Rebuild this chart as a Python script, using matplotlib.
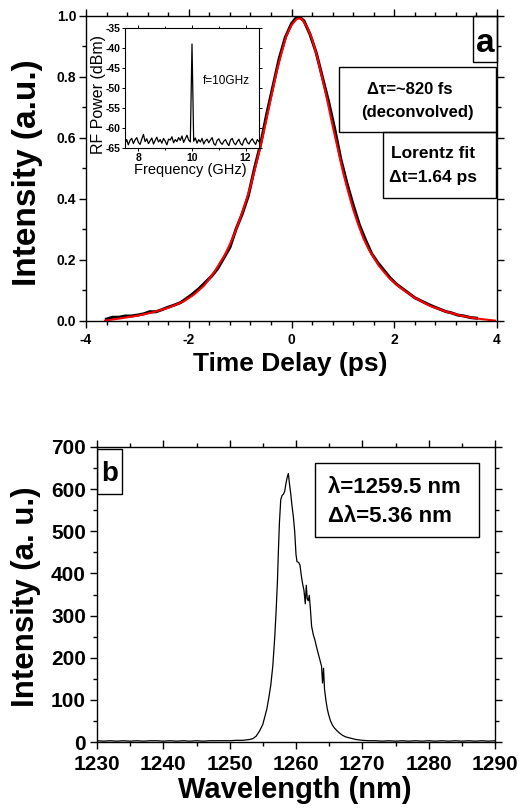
import numpy as np
import matplotlib
matplotlib.use("Agg")
import matplotlib.pyplot as plt
from matplotlib.ticker import MultipleLocator, FormatStrFormatter
from matplotlib.patches import Rectangle

plt.rcParams['font.family'] = ['Liberation Sans', 'DejaVu Sans']
plt.rcParams['font.weight'] = 'bold'
plt.rcParams['axes.unicode_minus'] = False

# autocorrelation trace (panel a)
delay = [-3.6, -3.48, -3.36, -3.24, -3.12, -3.0, -2.88, -2.76, -2.64, -2.52,
         -2.4, -2.28, -2.16, -2.04, -1.92, -1.8, -1.68, -1.56, -1.44, -1.32,
         -1.2, -1.08, -0.96, -0.84, -0.72, -0.6, -0.48, -0.36, -0.24, -0.12,
         0.0, 0.12, 0.24, 0.36, 0.48, 0.6, 0.72, 0.84, 0.96, 1.08,
         1.2, 1.32, 1.44, 1.56, 1.68, 1.8, 1.92, 2.04, 2.16, 2.28,
         2.4, 2.52, 2.64, 2.76, 2.88, 3.0, 3.12, 3.24, 3.36, 3.48, 3.6]
intensity = [0.005, 0.011, 0.011, 0.015, 0.015, 0.018, 0.022, 0.029, 0.029, 0.036,
             0.044, 0.051, 0.059, 0.073, 0.088, 0.105, 0.125, 0.145, 0.17, 0.205,
             0.24, 0.30, 0.35, 0.41, 0.50, 0.58, 0.68, 0.77, 0.86, 0.93,
             0.975, 1.0, 0.985, 0.94, 0.88, 0.80, 0.72, 0.63, 0.53, 0.45,
             0.38, 0.315, 0.265, 0.22, 0.19, 0.165, 0.14, 0.12, 0.105, 0.09,
             0.075, 0.065, 0.055, 0.046, 0.038, 0.03, 0.025, 0.018, 0.015, 0.01, 0.008]

# Lorentz fit curve
fit_t = [-3.63, -3.3, -3.0, -2.7, -2.4, -2.1, -1.9, -1.7, -1.5, -1.3,
         -1.2, -1.1, -1.0, -0.9, -0.8, -0.7, -0.6, -0.5, -0.4, -0.3,
         -0.2, -0.1, 0.0, 0.1, 0.15, 0.2, 0.3, 0.4, 0.5, 0.6,
         0.7, 0.8, 0.9, 1.0, 1.1, 1.2, 1.3, 1.4, 1.5, 1.7,
         1.9, 2.1, 2.4, 2.7, 3.0, 3.3, 3.6, 3.96]
fit_i = [0.0, 0.008, 0.016, 0.027, 0.042, 0.063, 0.085, 0.115, 0.16, 0.215,
         0.25, 0.29, 0.335, 0.385, 0.44, 0.505, 0.575, 0.65, 0.73, 0.81,
         0.875, 0.935, 0.97, 0.99, 0.992, 0.99, 0.965, 0.925, 0.865, 0.795,
         0.72, 0.64, 0.565, 0.49, 0.425, 0.365, 0.315, 0.27, 0.235, 0.18,
         0.14, 0.11, 0.075, 0.048, 0.03, 0.016, 0.007, 0.0]

# RF spectrum (inset)
rf_freq = np.linspace(7.5, 12.5, 81)
rf_power = [-63.8, -62.9, -64.2, -63.1, -62.6, -63.9, -63.0, -62.4, -63.6, -64.1,
            -62.8, -61.6, -63.4, -62.7, -63.9, -63.2, -62.5, -64.0, -63.1, -62.3,
            -63.5, -62.9, -63.8, -62.6, -63.3, -64.2, -62.8, -63.0, -62.2, -63.7,
            -62.9, -63.4, -62.4, -63.1, -62.0, -63.6, -62.7, -61.8, -63.0, -63.5,
            -39.0,
            -63.3, -62.5, -63.8, -62.9, -63.5, -62.6, -64.0, -63.2, -62.8, -63.7,
            -63.0, -62.4, -63.9, -64.3, -63.1, -62.7, -63.6, -64.1, -63.3, -62.9,
            -63.8, -64.4, -63.0, -62.6, -63.7, -64.2, -63.4, -62.8, -63.9, -64.3,
            -63.1, -62.5, -63.6, -64.0, -63.2, -62.7, -63.5, -64.1, -62.9, -63.4]

# optical spectrum (panel b)
wl = [1230, 1231, 1232, 1233, 1234, 1235, 1236, 1237, 1238, 1239,
      1240, 1241, 1242, 1243, 1244, 1245, 1246, 1247, 1248, 1249,
      1250, 1251, 1252, 1252.5, 1253, 1253.5, 1254, 1254.5, 1255, 1255.3,
      1255.6, 1255.9, 1256.2, 1256.5, 1256.8, 1257.0, 1257.2, 1257.35, 1257.5, 1257.7,
      1257.9, 1258.1, 1258.3, 1258.5, 1258.7, 1258.85, 1259.0, 1259.2, 1259.4, 1259.6,
      1259.8, 1260.0, 1260.15, 1260.4, 1260.6, 1260.8, 1261.0, 1261.2, 1261.4, 1261.55,
      1261.7, 1261.85, 1262.0, 1262.15, 1262.35, 1262.6, 1262.85, 1263.1, 1263.35, 1263.6,
      1263.85, 1264.0, 1264.15, 1264.3, 1264.5, 1264.7, 1264.9, 1265.2, 1265.5, 1265.8,
      1266.1, 1266.5, 1267.0, 1267.5, 1268, 1268.5, 1269, 1269.5, 1270, 1271,
      1272, 1273, 1274, 1275, 1276, 1277, 1278, 1279, 1280, 1281,
      1282, 1283, 1284, 1285, 1286, 1287, 1288, 1289, 1290]
spec = [3, 2, 3, 2, 3, 2, 3, 2, 3, 3,
        2, 3, 2, 3, 2, 3, 2, 3, 3, 3,
        3, 4, 4, 5, 6, 8, 14, 26, 42, 60,
        78, 105, 135, 180, 250, 310, 380, 455, 520, 575,
        585, 588, 595, 615, 630, 637, 615, 590, 560, 535,
        500, 445, 428, 426, 420, 395, 375, 360, 328, 372,
        340, 335, 348, 320, 275, 255, 242, 225, 210, 195,
        180, 140, 175, 125, 100, 80, 66, 50, 40, 33,
        28, 22, 16, 12, 10, 8, 6, 5, 4, 3,
        3, 2, 3, 2, 3, 2, 3, 2, 3, 2,
        3, 2, 3, 2, 3, 2, 3, 2, 3]


def style_axes(ax, size, major_len, minor_len):
    for s in ax.spines.values():
        s.set_linewidth(1.0)
    ax.tick_params(which='both', direction='out', top=True, right=True,
                   width=1.0, labelsize=size)
    ax.tick_params(which='major', length=major_len)
    ax.tick_params(which='minor', length=minor_len)
    for lab in ax.get_xticklabels() + ax.get_yticklabels():
        lab.set_fontweight('bold')


fig = plt.figure(figsize=(5.21, 8.09), dpi=100)
W, H = 521.0, 809.0


def box(x0, y0, x1, y1):
    # pixel box -> figure fraction
    return [x0 / W, 1 - y1 / H, (x1 - x0) / W, (y1 - y0) / H]


# ---- panel a ----
ax1 = fig.add_axes(box(86, 16, 497, 320.6))
ax1.plot(delay, intensity, color='black', lw=2.2)
ax1.plot(fit_t, fit_i, color='red', lw=1.5)
ax1.set_xlim(-4, 4)
ax1.set_ylim(0, 1.0)
ax1.xaxis.set_major_locator(MultipleLocator(2))
ax1.xaxis.set_minor_locator(MultipleLocator(0.4))
ax1.yaxis.set_major_locator(MultipleLocator(0.2))
ax1.yaxis.set_minor_locator(MultipleLocator(0.1))
ax1.yaxis.set_major_formatter(FormatStrFormatter('%.1f'))
ax1.tick_params(axis='x', pad=4)
ax1.tick_params(axis='y', pad=2)
style_axes(ax1, 10, 5, 3)

fig.text(290 / W, 1 - 364 / H, 'Time Delay (ps)', ha='center', va='center',
         fontsize=19, fontweight='bold')
fig.text(28 / W, 1 - 173 / H, 'Intensity (a.u.)', ha='center', va='center',
         rotation=90, fontsize=24, fontweight='bold')

ax1.add_patch(Rectangle((0.942, 0.849), 0.058, 0.151, transform=ax1.transAxes,
                        fill=False, lw=1.0, ec='black', clip_on=False))
ax1.text(0.971, 0.911, 'a', transform=ax1.transAxes, ha='center', va='center',
         fontsize=24, fontweight='bold')
ax1.add_patch(Rectangle((0.616, 0.619), 0.382, 0.213, transform=ax1.transAxes,
                        fill=False, lw=1.0, ec='black'))
ax1.text(0.787, 0.760, 'Δτ=~820 fs', transform=ax1.transAxes, ha='center',
         va='center', fontsize=12, fontweight='bold')
ax1.text(0.806, 0.682, '(deconvolved)', transform=ax1.transAxes, ha='center',
         va='center', fontsize=12, fontweight='bold')
ax1.add_patch(Rectangle((0.723, 0.402), 0.275, 0.217, transform=ax1.transAxes,
                        fill=False, lw=1.0, ec='black'))
ax1.text(0.743, 0.550, 'Lorentz fit', transform=ax1.transAxes, ha='left',
         va='center', fontsize=12.5, fontweight='bold')
ax1.text(0.737, 0.471, 'Δt=1.64 ps', transform=ax1.transAxes, ha='left',
         va='center', fontsize=12.5, fontweight='bold')

# ---- inset ----
axi = fig.add_axes(box(125, 28, 259, 148))
axi.plot(rf_freq, rf_power, color='black', lw=0.9)
axi.set_xlim(7.5, 12.5)
axi.set_ylim(-65, -35)
axi.xaxis.set_major_locator(MultipleLocator(2))
axi.xaxis.set_minor_locator(MultipleLocator(1))
axi.yaxis.set_major_locator(MultipleLocator(5))
for s in axi.spines.values():
    s.set_linewidth(0.8)
axi.tick_params(which='both', direction='out', top=True, right=True, width=0.7,
                labelsize=7.5, pad=1)
axi.tick_params(which='major', length=2.5)
axi.tick_params(which='minor', length=1.5)
axi.text(0.58, 0.56, 'f=10GHz', transform=axi.transAxes, ha='left',
         va='center', fontsize=8.5, fontweight='normal')
fig.text(190 / W, 1 - 170 / H, 'Frequency (GHz)', ha='center', va='center',
         fontsize=10.5, fontweight='normal')
fig.text(98 / W, 1 - 95 / H, 'RF Power (dBm)', ha='center', va='center',
         rotation=90, fontsize=11.5, fontweight='normal')

# ---- panel b ----
ax2 = fig.add_axes(box(97, 447, 495, 742))
ax2.plot(wl, spec, color='black', lw=0.9)
ax2.set_xlim(1230, 1290)
ax2.set_ylim(0, 700)
ax2.xaxis.set_major_locator(MultipleLocator(10))
ax2.xaxis.set_minor_locator(MultipleLocator(5))
ax2.yaxis.set_major_locator(MultipleLocator(100))
ax2.yaxis.set_minor_locator(MultipleLocator(50))
ax2.tick_params(axis='x', pad=4)
ax2.tick_params(axis='y', pad=3)
style_axes(ax2, 15, 5, 3)

fig.text(295 / W, 1 - 790 / H, 'Wavelength (nm)', ha='center', va='center',
         fontsize=21, fontweight='bold')
fig.text(26 / W, 1 - 597 / H, 'Intensity (a. u.)', ha='center', va='center',
         rotation=90, fontsize=22.5, fontweight='bold')

ax2.add_patch(Rectangle((0.0, 0.841), 0.063, 0.152, transform=ax2.transAxes,
                        fill=False, lw=1.0, ec='black'))
ax2.text(0.033, 0.908, 'b', transform=ax2.transAxes, ha='center', va='center',
         fontsize=20, fontweight='bold')
ax2.add_patch(Rectangle((0.548, 0.695), 0.412, 0.251, transform=ax2.transAxes,
                        fill=False, lw=1.0, ec='black'))
ax2.text(0.580, 0.864, 'λ=1259.5 nm', transform=ax2.transAxes, ha='left',
         va='center', fontsize=16, fontweight='bold')
ax2.text(0.580, 0.764, 'Δλ=5.36 nm', transform=ax2.transAxes, ha='left',
         va='center', fontsize=16, fontweight='bold')

fig.savefig('out.png', dpi=100)
